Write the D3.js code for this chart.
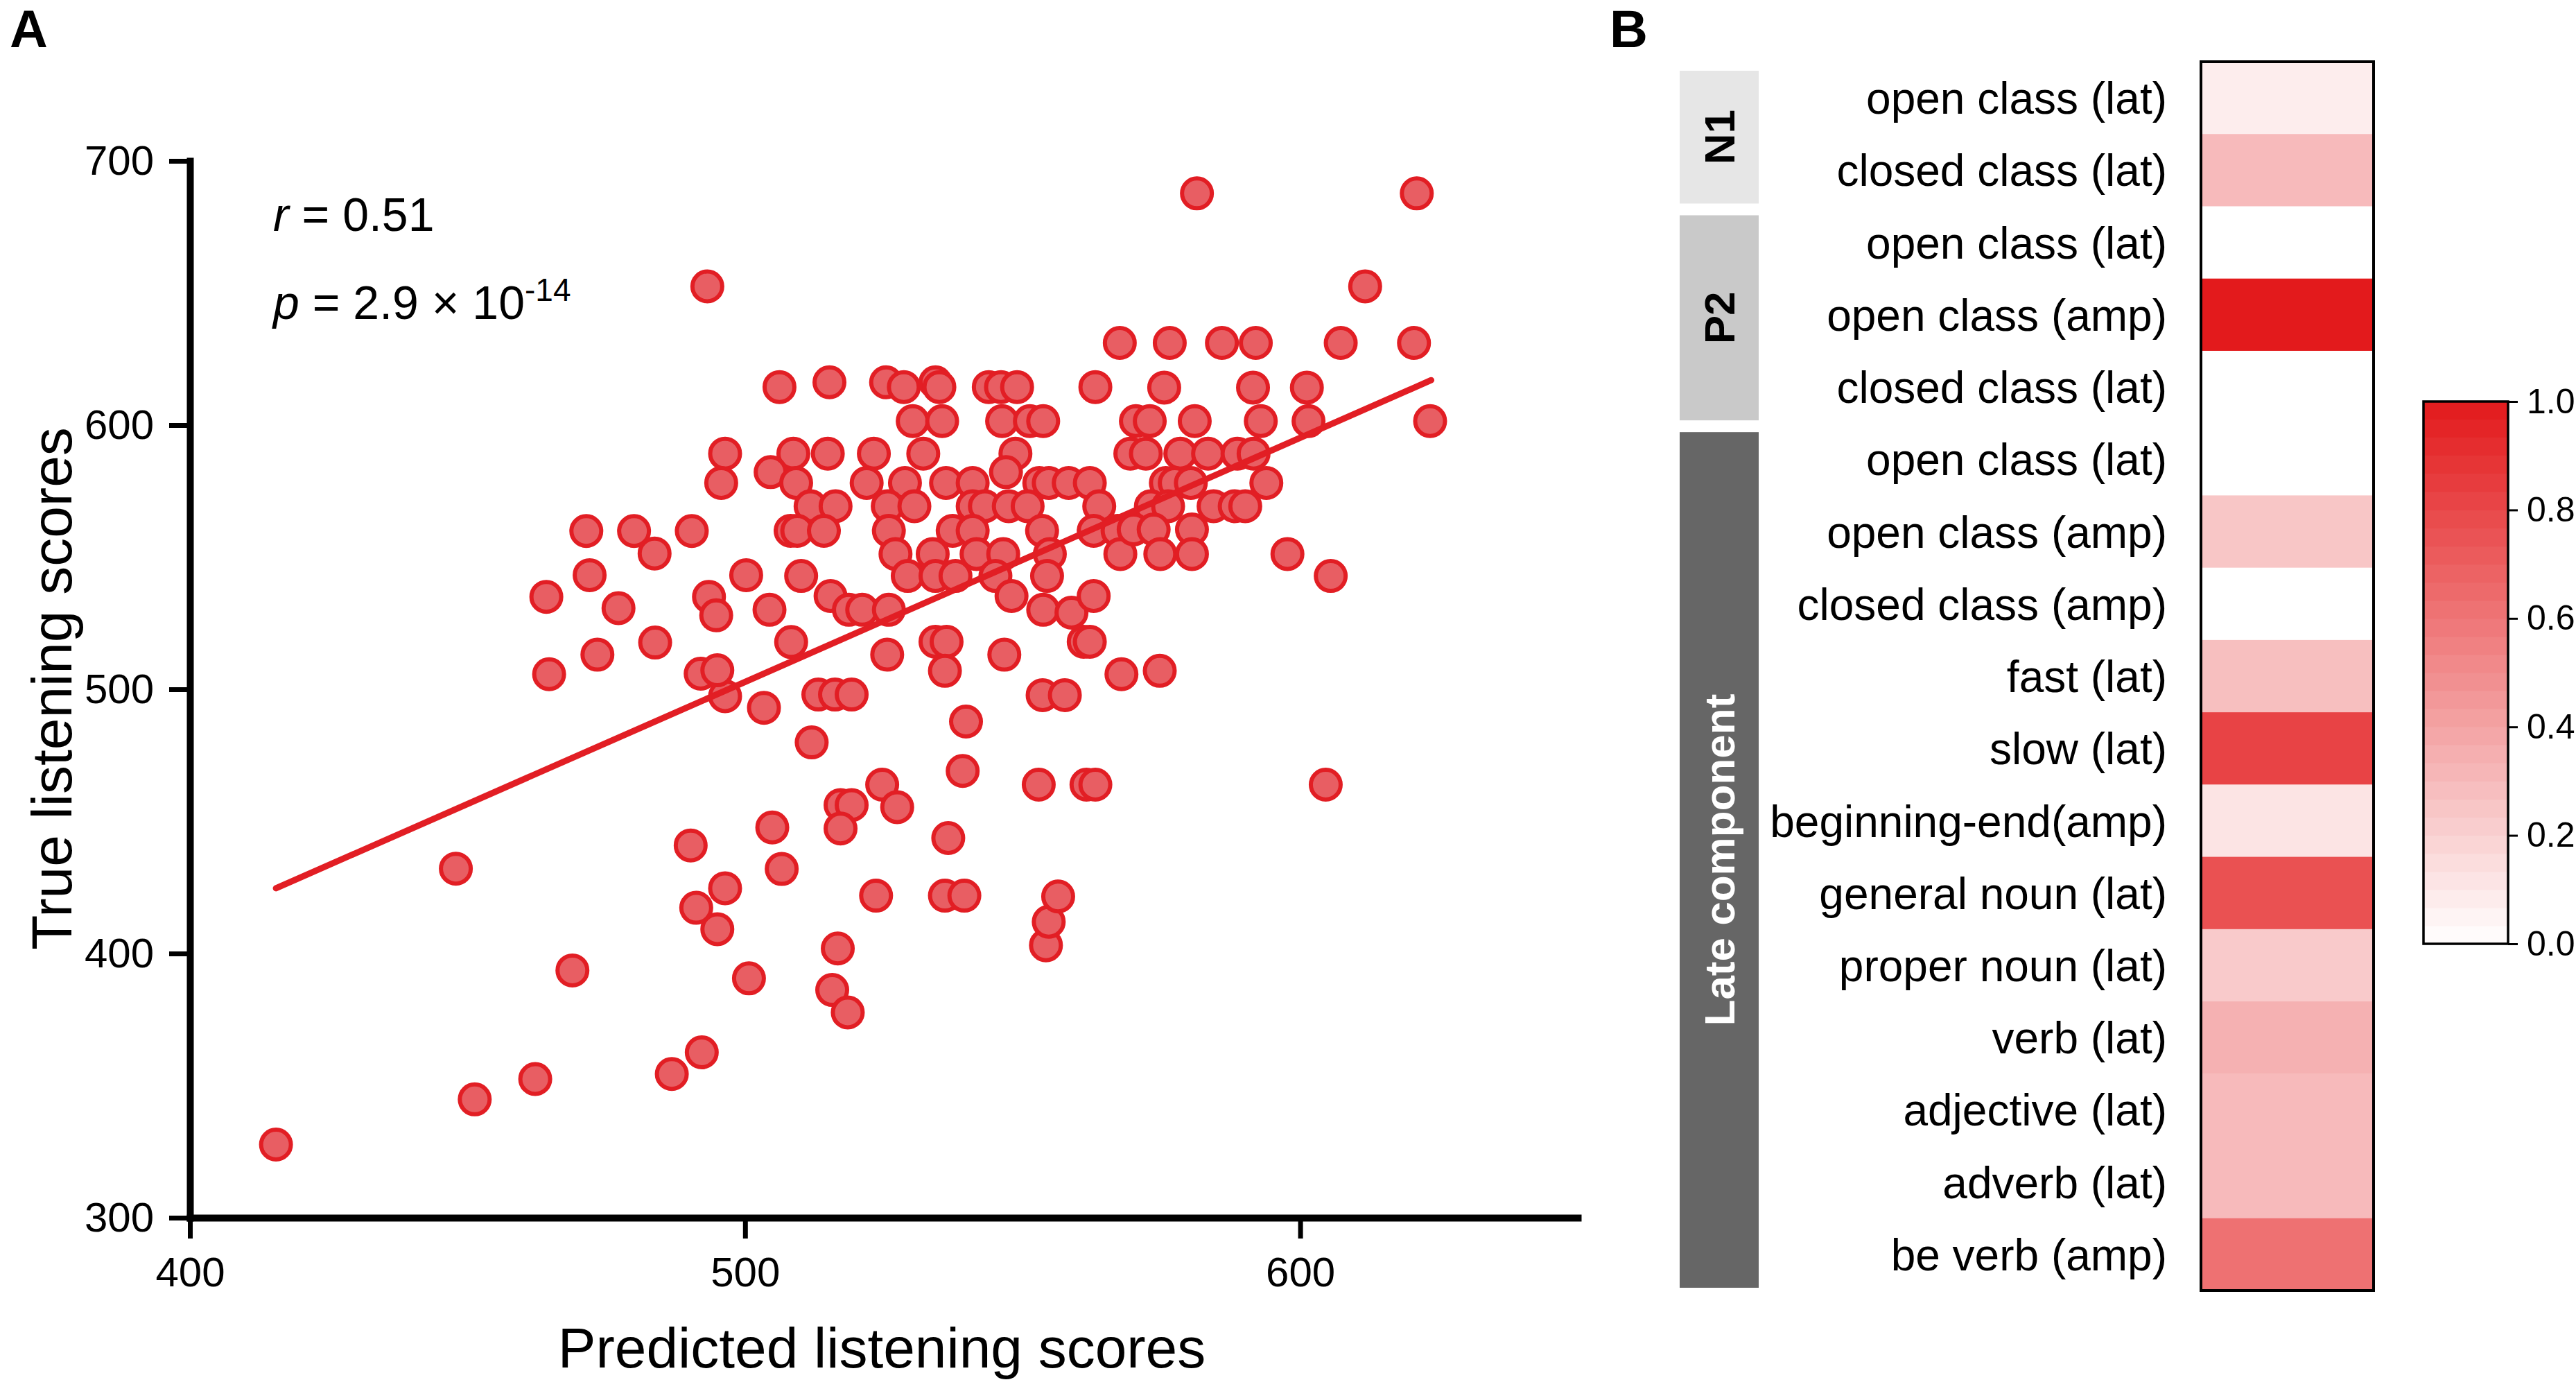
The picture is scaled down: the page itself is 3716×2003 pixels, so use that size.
<!DOCTYPE html>
<html>
<head>
<meta charset="utf-8">
<script src="https://cdn.jsdelivr.net/npm/d3@7"></script>
<style>
  html, body { margin: 0; padding: 0; background: #ffffff; }
  svg { display: block; }
  text { font-family: "Liberation Sans", Arial, Helvetica, sans-serif; }
</style>
</head>
<body>
<svg id="chart" width="3716" height="2003"></svg>
<script>
// ---------------- DATA ----------------
// Panel A: predicted vs true listening scores
const predicted = [
  415.5, 451.3, 462.2, 486.8, 492.2, 468.9, 500.7, 516.7, 515.7, 518.5,
  554.2, 554.7, 556.4, 495.0, 491.2, 496.4, 490.2, 447.9, 504.9, 506.6,
  523.6, 536.0, 539.5, 536.6, 517.2, 519.2, 517.2, 524.7, 527.4, 539.2,
  552.9, 561.5, 563.1, 604.6, 512.0, 539.8, 503.4, 496.4, 513.2, 516.2,
  519.2, 553.6, 557.6, 464.7, 492.0, 495.0, 473.4, 483.8, 508.3, 525.6,
  534.3, 536.3, 536.0, 546.7, 561.0, 562.1, 567.8, 574.7,
  493.2, 496.4, 495.7, 471.4, 480.0, 483.7, 490.4, 472.0, 464.2, 477.2,
  493.5, 494.8, 500.2,
  506.2, 515.2, 525.4, 528.6, 534.3, 535.0, 543.9, 546.1, 549.0, 563.1,
  567.5, 530.2, 535.5, 546.3, 551.3, 553.7, 570.4, 508.7, 514.9, 523.2,
  532.1, 548.7, 569.4, 504.6, 547.0, 509.2, 521.9, 528.8, 536.2, 541.0,
  553.0, 554.7, 558.3, 562.1, 511.8, 516.3, 525.7, 530.5, 541.0, 543.2,
  547.5, 550.9, 563.8, 508.2, 509.4, 514.2, 525.9, 537.4, 541.0, 553.5,
  562.8, 567.1, 527.1, 533.8, 541.7, 546.5, 554.9, 567.6, 510.1, 529.3,
  534.3, 537.9, 545.1, 554.4, 504.4, 515.4, 518.7, 521.1, 525.9, 548.0,
  553.7, 558.8, 562.8,
  581.4, 621.0, 611.7, 576.5, 585.9, 592.0, 607.3, 620.5, 575.5, 591.5,
  601.2, 572.9, 581.0, 592.9, 601.5, 623.4, 572.2, 578.4, 583.4, 588.7,
  591.6, 575.8, 577.4, 580.3, 593.9, 573.1, 576.2, 584.4, 588.2, 590.1,
  570.0, 573.6, 580.5, 574.8, 580.5, 597.7, 605.5
];
const trueScores = [
  327.7, 344.8, 352.5, 354.4, 362.6, 393.6, 390.6, 401.9, 386.2, 377.7,
  403.1, 412.0, 421.6, 409.2, 417.3, 424.7, 440.9, 432.1, 447.7, 432.0,
  421.9, 421.9, 421.9, 443.7, 456.2, 456.2, 447.3, 463.9, 455.4, 469.1,
  463.9, 463.9, 463.9, 463.9, 479.9, 487.8, 493.0, 497.4, 498.0, 498.0,
  498.0, 497.8, 497.8, 505.7, 505.9, 507.2, 513.1, 517.7, 517.9, 513.1,
  518.0, 518.0, 507.0, 513.1, 518.0, 518.0, 505.7, 507.0,
  652.5, 589.2, 578.1, 559.9, 559.9, 551.4, 559.9, 543.2, 535.0, 530.7,
  535.0, 528.0, 543.2,
  614.4, 616.2, 616.2, 614.4, 616.2, 614.4, 614.4, 614.4, 614.4, 614.4,
  631.1, 601.5, 601.5, 601.5, 601.5, 601.5, 601.5, 589.2, 589.2, 589.2,
  589.2, 589.2, 589.2, 582.2, 582.2, 578.1, 578.1, 578.1, 578.1, 578.1,
  578.1, 578.1, 578.1, 578.1, 569.3, 569.3, 569.3, 569.3, 569.3, 569.3,
  569.3, 569.3, 569.3, 560.0, 560.0, 560.0, 560.0, 560.0, 560.0, 560.0,
  560.0, 560.0, 551.2, 551.2, 551.2, 551.2, 551.2, 551.2, 542.9, 542.9,
  542.9, 542.9, 542.9, 542.9, 530.1, 535.3, 530.1, 530.1, 530.1, 535.3,
  530.1, 529.0, 535.3,
  687.7, 687.7, 652.5, 631.1, 631.1, 631.1, 631.1, 631.1, 614.2, 614.2,
  614.2, 601.5, 601.5, 601.5, 601.5, 601.5, 589.2, 589.2, 589.2, 589.2,
  589.2, 578.1, 578.1, 578.1, 578.1, 569.3, 569.3, 569.3, 569.3, 569.3,
  560.5, 560.5, 560.5, 551.2, 551.2, 551.2, 542.9
];
// fitted regression line endpoints [x, y]
const fitStart = [415.5, 424.7];
const fitEnd = [623.6, 617.0];
const xTicks = [400, 500, 600];
const yTicks = [300, 400, 500, 600, 700];
const xDomain = [400, 650];
const yDomain = [300, 700];

// Panel B: heatmap
const heatLabels = [
  "open class (lat)", "closed class (lat)",
  "open class (lat)", "open class (amp)", "closed class (lat)",
  "open class (lat)", "open class (amp)", "closed class (amp)", "fast (lat)",
  "slow (lat)", "beginning-end(amp)", "general noun (lat)", "proper noun (lat)",
  "verb (lat)", "adjective (lat)", "adverb (lat)", "be verb (amp)"
];
const heatValues = [0.08, 0.30, 0.0, 1.0, 0.0, 0.0, 0.25, 0.0, 0.28, 0.82, 0.12, 0.76, 0.23, 0.34, 0.30, 0.30, 0.62];
const groupNames = ["N1", "P2", "Late component"];
const groupFirstRow = [0, 2, 5];
const groupLastRow = [1, 4, 16];
const colorbarTicks = [0.0, 0.2, 0.4, 0.6, 0.8, 1.0];
const colorbarSteps = 30;

// ---------------- DRAW ----------------
const svg = d3.select("#chart");
svg.append("rect").attr("width", 3716).attr("height", 2003).attr("fill", "#ffffff");

const FONT = '"Liberation Sans", Arial, Helvetica, sans-serif';
const RED = "#E21E24";
const FILL = "#E85E63";

// Panel letters
svg.append("text").attr("x", 14).attr("y", 68).attr("font-size", 76).attr("font-weight", "bold").text("A");
svg.append("text").attr("x", 2322).attr("y", 68).attr("font-size", 76).attr("font-weight", "bold").text("B");

// ---- Panel A ----
const x = d3.scaleLinear().domain(xDomain).range([274, 2276]);
const y = d3.scaleLinear().domain(yDomain).range([1756, 232]);

const xAxis = d3.axisBottom(x).tickValues(xTicks).tickSize(30).tickSizeOuter(0).tickPadding(26).tickFormat(d3.format("d"));
const yAxis = d3.axisLeft(y).tickValues(yTicks).tickSize(30).tickSizeOuter(0).tickPadding(22).tickFormat(d3.format("d"));

const gx = svg.append("g").attr("transform", "translate(0,1756)").call(xAxis);
const gy = svg.append("g").attr("transform", "translate(274,0)").call(yAxis);
[gx, gy].forEach(g => {
  g.select(".domain").attr("stroke", "#000").attr("stroke-width", 10).attr("stroke-linecap", "square");
  g.selectAll(".tick line").attr("stroke", "#000").attr("stroke-width", 7);
  g.selectAll(".tick text").attr("fill", "#000").attr("font-size", 60).attr("font-family", FONT);
});

// Axis titles
svg.append("text").attr("x", 1272).attr("y", 1972).attr("text-anchor", "middle")
  .attr("font-size", 82).text("Predicted listening scores");
svg.append("text").attr("transform", "translate(103,993) rotate(-90)").attr("text-anchor", "middle")
  .attr("font-size", 82).text("True listening scores");

// Points
const pts = predicted.map((p, i) => ({ p: p, t: trueScores[i] }));
svg.append("g").selectAll("circle").data(pts).join("circle")
  .attr("cx", d => x(d.p)).attr("cy", d => y(d.t)).attr("r", 21.5)
  .attr("fill", FILL).attr("stroke", RED).attr("stroke-width", 6);

// Regression line
svg.append("line")
  .attr("x1", x(fitStart[0])).attr("y1", y(fitStart[1]))
  .attr("x2", x(fitEnd[0])).attr("y2", y(fitEnd[1]))
  .attr("stroke", RED).attr("stroke-width", 9).attr("stroke-linecap", "round");

// Stats text
const rt = svg.append("text").attr("x", 394).attr("y", 333).attr("font-size", 68);
rt.append("tspan").attr("font-style", "italic").text("r");
rt.append("tspan").text(" = 0.51");
const pt = svg.append("text").attr("x", 394).attr("y", 460).attr("font-size", 68);
pt.append("tspan").attr("font-style", "italic").text("p");
pt.append("tspan").text(" = 2.9 \u00D7 10");
pt.append("tspan").attr("dy", -26).attr("font-size", 46).text("-14");

// ---- Panel B ----
const rowScale = d3.scaleBand().domain(d3.range(heatLabels.length)).range([89, 1861]);
const color = d3.scaleLinear().domain([0, 1]).range(["#FFFFFF", "#E31A1C"]);

// Group boxes
const groupFill = ["#E6E6E6", "#C9C9C9", "#666666"];
const groupText = ["#000000", "#000000", "#FFFFFF"];
groupNames.forEach((name, i) => {
  const top = rowScale(groupFirstRow[i]) + 13;
  const bottom = rowScale(groupLastRow[i]) + rowScale.bandwidth() - 4;
  svg.append("rect").attr("x", 2423).attr("y", top).attr("width", 114).attr("height", bottom - top)
    .attr("fill", groupFill[i]);
  const cy = (top + bottom) / 2;
  svg.append("text").attr("transform", `translate(2480,${cy}) rotate(-90)`)
    .attr("text-anchor", "middle").attr("dy", "0.36em")
    .attr("font-size", i === 2 ? 62 : 62).attr("font-weight", "bold").attr("fill", groupText[i])
    .text(name);
});

// Heat cells
svg.append("g").selectAll("rect").data(heatValues).join("rect")
  .attr("x", 3175).attr("width", 249)
  .attr("y", (d, i) => rowScale(i)).attr("height", rowScale.bandwidth() + 0.5)
  .attr("fill", d => color(d));
svg.append("rect").attr("x", 3175).attr("y", 89).attr("width", 249).attr("height", 1772)
  .attr("fill", "none").attr("stroke", "#000").attr("stroke-width", 4);

// Row labels
svg.append("g").selectAll("text").data(heatLabels).join("text")
  .attr("x", 3126).attr("y", (d, i) => rowScale(i) + rowScale.bandwidth() / 2)
  .attr("dy", "0.36em").attr("text-anchor", "end").attr("font-size", 64).attr("fill", "#000")
  .text(d => d);

// Colorbar
const cb = d3.scaleLinear().domain([0, 1]).range([1361, 579]);
const steps = d3.range(colorbarSteps);
svg.append("g").selectAll("rect").data(steps).join("rect")
  .attr("x", 3496).attr("width", 122)
  .attr("y", d => cb((d + 1) / colorbarSteps))
  .attr("height", d => cb(d / colorbarSteps) - cb((d + 1) / colorbarSteps) + 0.6)
  .attr("fill", d => color((d + 0.5) / colorbarSteps));
svg.append("rect").attr("x", 3496).attr("y", 579).attr("width", 122).attr("height", 782)
  .attr("fill", "none").attr("stroke", "#000").attr("stroke-width", 3.5);
const cbAxis = d3.axisRight(cb).tickValues(colorbarTicks).tickSize(14).tickSizeOuter(0).tickPadding(13).tickFormat(d3.format(".1f"));
const gcb = svg.append("g").attr("transform", "translate(3618,0)").call(cbAxis);
gcb.select(".domain").remove();
gcb.selectAll(".tick line").attr("stroke", "#000").attr("stroke-width", 3);
gcb.selectAll(".tick text").attr("fill", "#000").attr("font-size", 50).attr("font-family", FONT);
</script>
</body>
</html>
